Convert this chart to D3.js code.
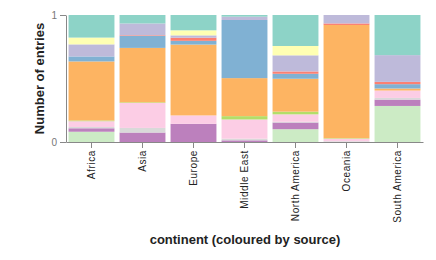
<!DOCTYPE html>
<html>
<head>
<meta charset="utf-8">
<script src="https://cdn.jsdelivr.net/npm/d3@7"></script>
<style>
  body { margin: 0; background: #fff; }
  text { font-family: "Liberation Sans", Arial, sans-serif; }
</style>
</head>
<body>
<div id="chart"></div>
<script>
// continents along x
const continents = ["Africa", "Asia", "Europe", "Middle East", "North America", "Oceania", "South America"];

// sources, top of each stack first
const sources = ["s01", "s02", "s03", "s04", "s05", "s06", "s07", "s08", "s09", "s10", "s11"];

// share of entries per source, one value per continent (same order as continents)
const s01 = [0.176, 0.066, 0.118, 0.013, 0.242, 0.000, 0.315];
const s02 = [0.053, 0.000, 0.039, 0.000, 0.073, 0.000, 0.000];
const s03 = [0.094, 0.092, 0.018, 0.026, 0.126, 0.066, 0.210];
const s04 = [0.000, 0.005, 0.024, 0.000, 0.018, 0.012, 0.018];
const s05 = [0.039, 0.094, 0.029, 0.454, 0.039, 0.000, 0.034];
const s06 = [0.460, 0.425, 0.546, 0.297, 0.257, 0.885, 0.016];
const s07 = [0.006, 0.005, 0.000, 0.026, 0.021, 0.004, 0.000];
const s08 = [0.045, 0.195, 0.065, 0.150, 0.058, 0.020, 0.058];
const s09 = [0.010, 0.036, 0.000, 0.013, 0.006, 0.006, 0.013];
const s10 = [0.027, 0.074, 0.140, 0.013, 0.052, 0.000, 0.050];
const s11 = [0.080, 0.000, 0.000, 0.000, 0.100, 0.000, 0.283];

const yTicks = [0, 1];

const seriesValues = [s01, s02, s03, s04, s05, s06, s07, s08, s09, s10, s11];

const width = 436, height = 260;
const margin = { top: 15, right: 13, bottom: 118, left: 66 };

const svg = d3.select("#chart")
  .append("svg")
  .attr("width", width)
  .attr("height", height);

// build rows for the stack
const rows = continents.map((c, i) => {
  const r = { continent: c };
  sources.forEach((s, j) => { r[s] = seriesValues[j][i]; });
  return r;
});

const stack = d3.stack()
  .keys(sources.slice().reverse())   // last source at the bottom
  .offset(d3.stackOffsetExpand);

const stacked = stack(rows);

const x = d3.scaleBand()
  .domain(continents)
  .range([margin.left, width - margin.right])
  .paddingInner(0.1)
  .paddingOuter(0.05);

const y = d3.scaleLinear()
  .domain([0, 1])
  .range([height - margin.bottom, margin.top]);

const color = d3.scaleOrdinal()
  .domain(sources)
  .range(d3.schemeSet3);

// bars
svg.append("g")
  .selectAll("g")
  .data(stacked)
  .join("g")
    .attr("fill", d => color(d.key))
  .selectAll("rect")
  .data(d => d)
  .join("rect")
    .attr("x", d => x(d.data.continent))
    .attr("y", d => y(d[1]))
    .attr("width", x.bandwidth())
    .attr("height", d => Math.max(0, y(d[0]) - y(d[1])));

// y axis
const yAxis = svg.append("g")
  .attr("transform", `translate(${margin.left},0)`)
  .call(d3.axisLeft(y).tickValues(yTicks).tickFormat(d3.format("d")).tickSizeOuter(0));
yAxis.selectAll("path, line").attr("stroke", "#888");
yAxis.selectAll("text").attr("fill", "#777").style("font-size", "10px");

// x axis
const xAxis = svg.append("g")
  .attr("transform", `translate(0,${height - margin.bottom})`)
  .call(d3.axisBottom(x).tickSizeOuter(0));
xAxis.select(".domain").attr("stroke", "#888");
xAxis.selectAll("line").attr("stroke", "#888");
xAxis.selectAll("text")
  .attr("fill", "#222")
  .style("font-size", "10px")
  .style("letter-spacing", "0.6px")
  .attr("transform", "rotate(-90)")
  .attr("text-anchor", "end")
  .attr("x", -8)
  .attr("y", 0)
  .attr("dy", "0.35em");

// axis titles
svg.append("text")
  .attr("transform", `translate(44,${(margin.top + height - margin.bottom) / 2}) rotate(-90)`)
  .attr("text-anchor", "middle")
  .attr("fill", "#222")
  .style("font-size", "13px")
  .style("font-weight", "bold")
  .text("Number of entries");

svg.append("text")
  .attr("x", 245)
  .attr("y", 244)
  .attr("text-anchor", "middle")
  .attr("fill", "#222")
  .style("font-size", "13px")
  .style("font-weight", "bold")
  .text("continent (coloured by source)");
</script>
</body>
</html>
